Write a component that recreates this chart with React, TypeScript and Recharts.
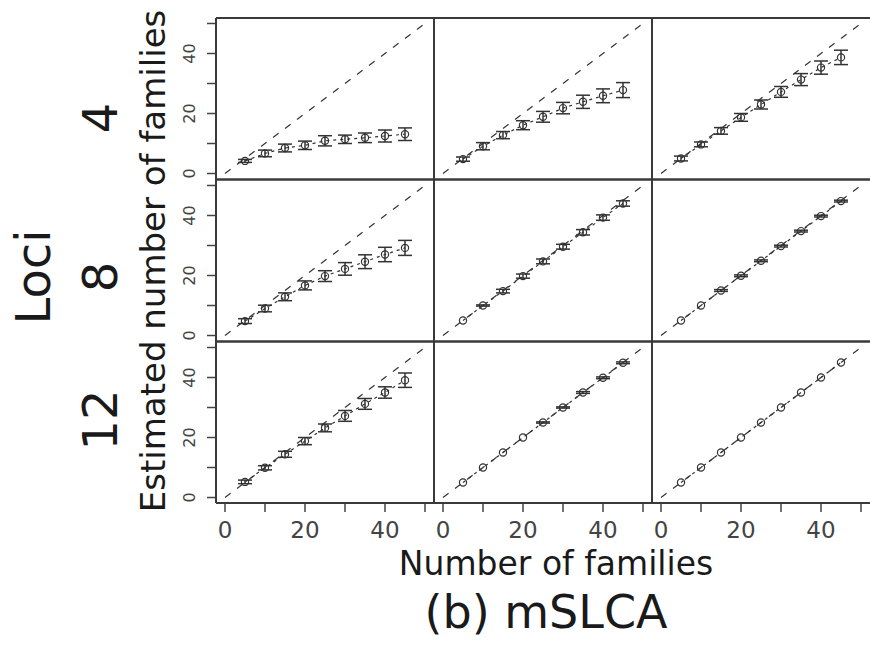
import React from 'react';
import { ComposedChart, Line, ErrorBar, XAxis, YAxis, ReferenceLine } from 'recharts';

// true number of families simulated (x) and tick values
const FAMILIES = [5, 10, 15, 20, 25, 30, 35, 40, 45];
const AXIS_TICKS = [0, 10, 20, 30, 40, 50];
const ROW_LABELS = ['4', '8', '12'];

// estimated number of families (mean) and half-width of the error bar, per panel
// rows: loci 4 / 8 / 12, cols: left / middle / right
const EST_4_A = [4.2, 6.7, 8.5, 9.4, 10.9, 11.4, 11.9, 12.5, 13.1];
const ERR_4_A = [0.5, 1.1, 1.3, 1.4, 1.7, 1.4, 1.6, 2.0, 2.1];
const EST_4_B = [4.8, 9.1, 12.8, 16.1, 18.9, 21.8, 23.9, 25.9, 27.8];
const ERR_4_B = [0.7, 1.2, 1.2, 1.5, 1.8, 1.9, 2.2, 2.3, 2.5];
const EST_4_C = [5.0, 9.7, 14.2, 18.7, 23.0, 27.2, 31.3, 35.3, 38.7];
const ERR_4_C = [0.8, 0.8, 1.1, 1.3, 1.5, 1.8, 2.0, 2.2, 2.4];

const EST_8_A = [4.8, 9.0, 12.9, 16.7, 19.8, 22.2, 24.6, 27.0, 29.2];
const ERR_8_A = [0.8, 1.1, 1.3, 1.5, 1.8, 2.1, 2.3, 2.4, 2.5];
const EST_8_B = [5.0, 10.0, 14.8, 19.8, 24.7, 29.6, 34.4, 39.3, 44.0];
const ERR_8_B = [0, 0.2, 0.6, 0.7, 0.8, 0.8, 0.9, 0.9, 0.9];
const EST_8_C = [5.0, 10.0, 15.0, 19.9, 24.9, 29.8, 34.8, 39.8, 44.8];
const ERR_8_C = [0, 0, 0.3, 0.3, 0.3, 0.3, 0.3, 0.3, 0.3];

const EST_12_A = [5.2, 9.9, 14.4, 18.8, 23.2, 27.2, 31.2, 35.0, 39.1];
const ERR_12_A = [0.6, 0.7, 1.0, 1.2, 1.3, 1.8, 1.8, 1.9, 2.4];
const EST_12_B = [5.0, 10.0, 15.0, 20.0, 25.0, 30.0, 35.0, 39.9, 44.9];
const ERR_12_B = [0, 0, 0, 0, 0.2, 0.2, 0.3, 0.3, 0.3];
const EST_12_C = [5, 10, 15, 20, 25, 30, 35, 40, 45];
const ERR_12_C = [0, 0, 0, 0, 0, 0, 0, 0, 0];

const PANELS = [
  [[EST_4_A, ERR_4_A], [EST_4_B, ERR_4_B], [EST_4_C, ERR_4_C]],
  [[EST_8_A, ERR_8_A], [EST_8_B, ERR_8_B], [EST_8_C, ERR_8_C]],
  [[EST_12_A, ERR_12_A], [EST_12_B, ERR_12_B], [EST_12_C, ERR_12_C]],
];

const COL_LEFT = [216, 434, 652];
const ROW_TOP = [18, 180, 342];
const ROW_LABEL_Y = [118, 277, 420];
const PANEL_W = 218;
const PANEL_H = 161;
const Y_AXIS_W = 60;
const X_AXIS_H = 50;
const INK = '#333';
const FONT = '"DejaVu Sans", sans-serif';

function Dot(props: any) {
  const { cx, cy } = props;
  if (cx == null || cy == null) return null;
  return <circle cx={cx} cy={cy} r={3.6} fill="none" stroke={INK} strokeWidth={1.2} />;
}

function YTick(props: any) {
  const { x, y, payload } = props;
  if (payload.value % 20 !== 0) return <g />;
  return (
    <text x={x} y={y} transform={`rotate(-90 ${x} ${y})`} textAnchor="middle"
      fontSize={16} fill="#444" fontFamily={FONT}>
      {payload.value}
    </text>
  );
}

function XTick(props: any) {
  const { x, y, payload } = props;
  if (payload.value % 20 !== 0) return <g />;
  return (
    <text x={x} y={y + 22} textAnchor="middle" fontSize={23} fill="#444" fontFamily={FONT}>
      {payload.value}
    </text>
  );
}

function Panel({ row, col }: { row: number; col: number }) {
  const [est, err] = PANELS[row][col];
  const data = FAMILIES.map((n, i) => ({ n, est: est[i], err: err[i] }));
  const showY = col === 0;
  const showX = row === 2;
  const w = PANEL_W + (showY ? Y_AXIS_W : 0);
  const h = PANEL_H + (showX ? X_AXIS_H : 0);
  return (
    <div style={{ position: 'absolute', left: COL_LEFT[col] - (showY ? Y_AXIS_W : 0), top: ROW_TOP[row] }}>
      <ComposedChart width={w} height={h} data={data} margin={{ top: 0, right: 0, bottom: 0, left: 0 }}>
        <XAxis
          dataKey="n"
          type="number"
          domain={[-2.25, 52.25]}
          allowDataOverflow
          ticks={AXIS_TICKS}
          interval={0}
          hide={!showX}
          height={showX ? X_AXIS_H : 0}
          axisLine={false}
          tickSize={9}
          tickMargin={4}
          tickLine={{ stroke: '#444', strokeWidth: 1.5 }}
          tick={<XTick />}
        />
        <YAxis
          type="number"
          domain={[-1.83, 51.83]}
          allowDataOverflow
          ticks={AXIS_TICKS}
          interval={0}
          hide={!showY}
          width={showY ? Y_AXIS_W : 0}
          axisLine={false}
          tickSize={9}
          tickMargin={12}
          tickLine={{ stroke: '#444', strokeWidth: 1.5 }}
          tick={<YTick />}
        />
        <ReferenceLine
          segment={[{ x: 0, y: 0 }, { x: 50, y: 50 }]}
          stroke={INK}
          strokeWidth={1.2}
          strokeDasharray="7 8"
          ifOverflow="visible"
        />
        <Line
          dataKey="est"
          stroke={INK}
          strokeWidth={1.2}
          strokeDasharray="3 4"
          dot={<Dot />}
          activeDot={false}
          isAnimationActive={false}
        >
          <ErrorBar dataKey="err" width={7} stroke={INK} strokeWidth={1.5} direction="y" />
        </Line>
      </ComposedChart>
    </div>
  );
}

export default function App() {
  const right = 870;
  const bottom = ROW_TOP[2] + PANEL_H;
  return (
    <div style={{ position: 'absolute', left: 0, top: 0, width: 870, height: 650, background: '#fff', overflow: 'hidden' }}>
      {[0, 1, 2].map((r) => [0, 1, 2].map((c) => <Panel key={`${r}-${c}`} row={r} col={c} />))}
      <svg width={870} height={650} style={{ position: 'absolute', left: 0, top: 0, pointerEvents: 'none' }}>
        <g stroke="#3a3a3a" strokeWidth={2} fill="none">
          <line x1={COL_LEFT[0]} y1={ROW_TOP[0]} x2={right} y2={ROW_TOP[0]} />
          <line x1={COL_LEFT[0]} y1={ROW_TOP[1] - 0.5} x2={right} y2={ROW_TOP[1] - 0.5} strokeWidth={2.5} />
          <line x1={COL_LEFT[0]} y1={ROW_TOP[2] - 0.5} x2={right} y2={ROW_TOP[2] - 0.5} strokeWidth={2.5} />
          <line x1={COL_LEFT[0]} y1={bottom} x2={right} y2={bottom} />
          {COL_LEFT.map((x) => (
            <line key={x} x1={x} y1={ROW_TOP[0]} x2={x} y2={bottom} />
          ))}
        </g>
        <g fontFamily={FONT} fill="#1a1a1a">
          <text x={556} y={575} fontSize={33} textAnchor="middle">Number of families</text>
          <text x={546} y={628} fontSize={46} textAnchor="middle">(b) mSLCA</text>
          <text x={165} y={261} fontSize={34} textAnchor="middle" transform="rotate(-90 165 261)">
            Estimated number of families
          </text>
          <text x={50} y={277} fontSize={48} textAnchor="middle" transform="rotate(-90 50 277)">Loci</text>
          {ROW_LABELS.map((label, i) => {
            const cy = ROW_LABEL_Y[i];
            return (
              <text key={label} x={117} y={cy} fontSize={48} textAnchor="middle" transform={`rotate(-90 117 ${cy})`}>
                {label}
              </text>
            );
          })}
        </g>
      </svg>
    </div>
  );
}
